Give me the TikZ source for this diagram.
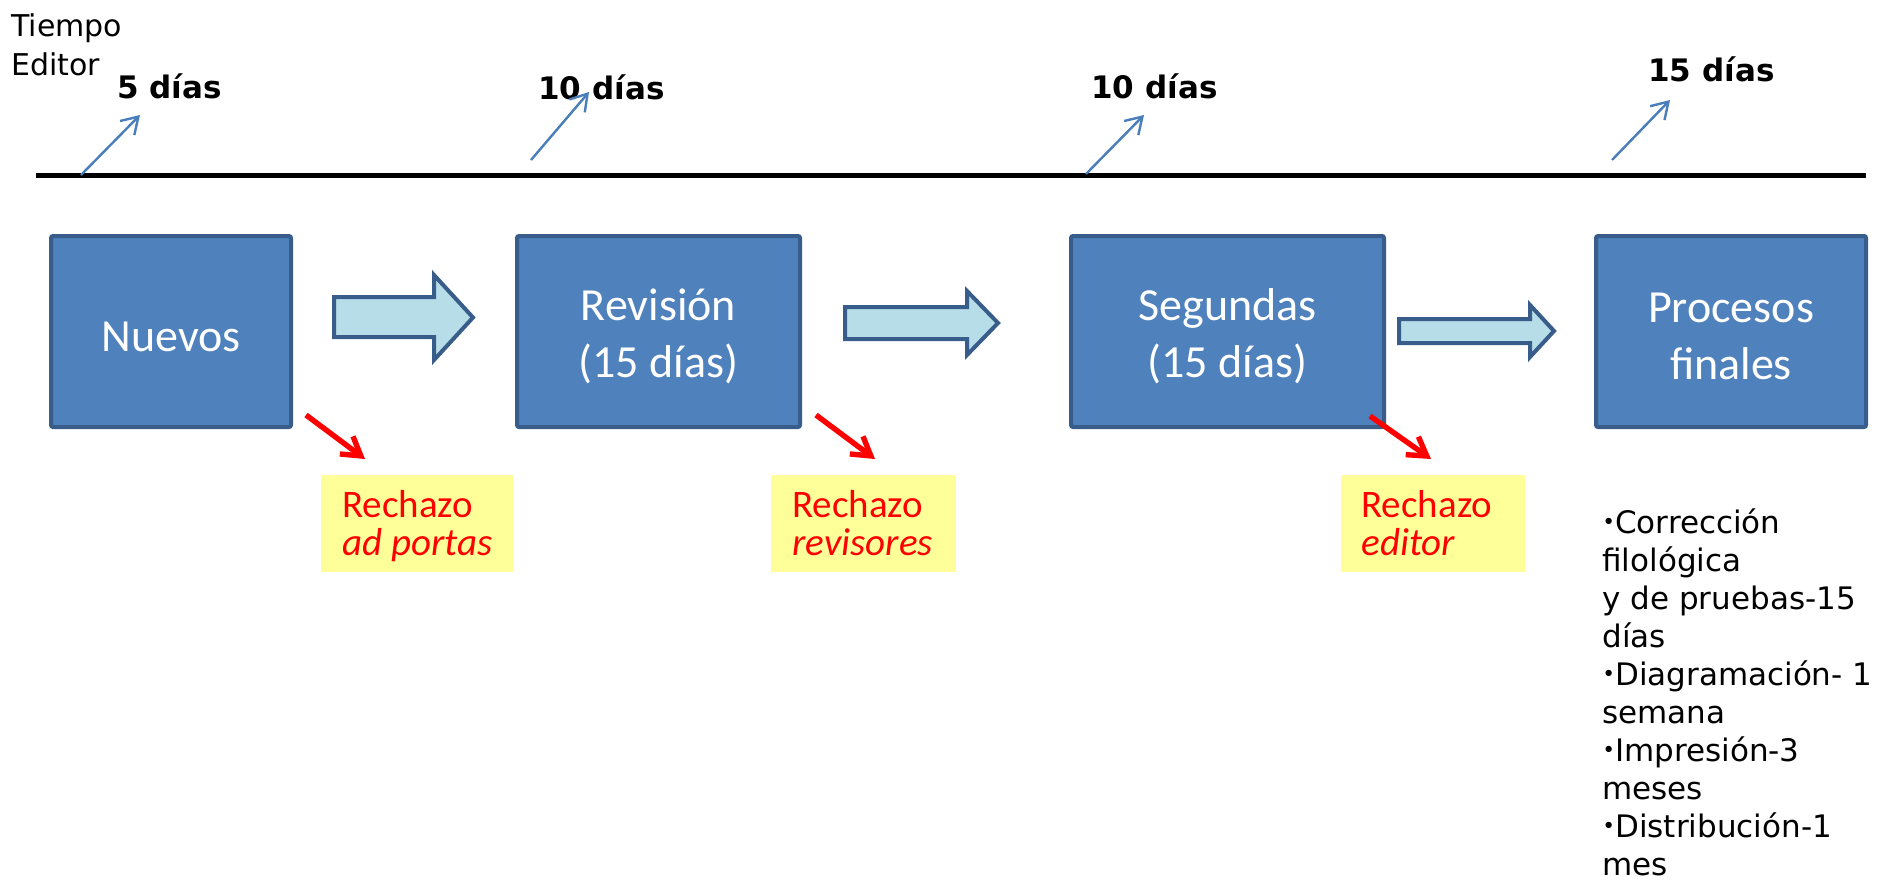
\documentclass[tikz,border=0pt]{standalone}
\usepackage{fontspec}
\newfontfamily\carl{Carlito}
\newfontfamily\dvs{DejaVu Sans}
\usetikzlibrary{arrows.meta}
\definecolor{boxfill}{HTML}{4F81BD}
\definecolor{boxline}{HTML}{385D8A}
\definecolor{arrfill}{HTML}{B7DEE8}
\definecolor{tickblue}{HTML}{4A7EBB}
\definecolor{yel}{HTML}{FFFF99}
\newcommand{\smbul}{\raisebox{0.12em}{\scalebox{0.7}{•}}}
\begin{document}
\begin{tikzpicture}[x=0.5pt,y=-0.5pt,
  stagebox/.style={draw=boxline, line width=2pt, fill=boxfill, rounded corners=1pt,
    inner sep=0pt, outer sep=0pt, minimum height=95.5pt},
  stagetext/.style={text=white, inner sep=0pt, font=\carl\fontsize{23}{28.5}\selectfont, align=center},
  blockarr/.style={draw=boxline, line width=2pt, fill=arrfill, line join=miter},
  tick/.style={draw=tickblue, line width=1.2pt, -{Straight Barb[length=8pt,width=10pt]}},
  reject/.style={draw=red, line width=2.7pt, -{Straight Barb[length=9pt,width=11pt]}},
  rejbox/.style={fill=yel, inner sep=0pt, outer sep=0pt, minimum height=48.5pt},
  rejtext/.style={text=red, font=\carl\fontsize{19.5}{19}\selectfont, align=left,
    inner sep=0pt, anchor=base west},
  days/.style={font=\dvs\bfseries\fontsize{15.5}{19}\selectfont, inner sep=0pt, anchor=base west},
  plain/.style={font=\dvs\fontsize{15.5}{19}\selectfont, inner sep=0pt, anchor=base west, align=left},
]
\useasboundingbox (0,0) rectangle (1895,879);

% time line
\coordinate (tl) at (36,175);
\coordinate (tr) at (1866,175);
\draw[line width=2.5pt] (tl) -- (tr);

% header (base anchor = baseline of last line)
\node[plain, font=\dvs\fontsize{15}{19.5}\selectfont] (tiempo) at (11,75) {Tiempo\\Editor};
\node[days] (d1) at (117,98) {5 días};
\node[days] (d2) at (538,99) {10 días};
\node[days] (d3) at (1091,98) {10 días};
\node[days] (d4) at (1648,81) {15 días};

% blue ticks
\coordinate (t1s) at (81,175);   \coordinate (t1e) at (140,115);
\coordinate (t2s) at (531,160);  \coordinate (t2e) at (589,92);
\coordinate (t3s) at (1086,174); \coordinate (t3e) at (1144,115);
\coordinate (t4s) at (1612,160); \coordinate (t4e) at (1670,100);
\draw[tick] (t1s) -- (t1e);
\draw[tick] (t2s) -- (t2e);
\draw[tick] (t3s) -- (t3e);
\draw[tick] (t4s) -- (t4e);

% stage boxes
\node[stagebox, minimum width=120pt] (nuevos) at (171,331.5) {};
\node[stagebox, minimum width=141.5pt] (revision) at (658.5,331.5) {};
\node[stagebox, minimum width=156.5pt] (segundas) at (1227.5,331.5) {};
\node[stagebox, minimum width=135pt] (procesos) at (1731,331.5) {};
\node[stagetext] (nuevost) at ([yshift=-2.5pt]nuevos.center) {Nuevos};
\node[stagetext] (revisiont) at ([yshift=-2.5pt]revision.center) {Revisión\\(15 días)};
\node[stagetext] (segundast) at ([yshift=-2.5pt]segundas.center) {Segundas\\(15 días)};
\node[stagetext] (procesost) at ([yshift=-2.5pt]procesos.center) {Procesos\\finales};

% block arrows
\draw[blockarr] (334,297) -- (434,297) -- (434,275) -- (473,317.5) -- (434,360) -- (434,337) -- (334,337) -- cycle;
\draw[blockarr] (845,307) -- (967,307) -- (967,291) -- (998,323) -- (967,355) -- (967,339) -- (845,339) -- cycle;
\draw[blockarr] (1399,319) -- (1530,319) -- (1530,305) -- (1554,331) -- (1530,357) -- (1530,343) -- (1399,343) -- cycle;

% rejection boxes
\node[rejbox, minimum width=96pt] (r1) at (417,523.5) {};
\node[rejbox, minimum width=92.5pt] (r2) at (863.5,523.5) {};
\node[rejbox, minimum width=92pt] (r3) at (1433,523.5) {};
\node[rejtext] (r1t) at (342,555) {Rechazo\\\textit{ad portas}};
\node[rejtext] (r2t) at (792,555) {Rechazo\\\textit{revisores}};
\node[rejtext] (r3t) at (1361,555) {Rechazo\\\textit{editor}};

% red arrows
\coordinate (a1s) at (306,415);  \coordinate (a1e) at (365,459);
\coordinate (a2s) at (816,415);  \coordinate (a2e) at (875,459);
\coordinate (a3s) at (1370,416); \coordinate (a3e) at (1431,459);
\draw[reject] (a1s) -- (a1e);
\draw[reject] (a2s) -- (a2e);
\draw[reject] (a3s) -- (a3e);

% final list
\node[plain] (lista) at (1602,875) {\smbul Corrección\\filológica\\y de pruebas-15\\días\\\smbul Diagramación- 1\\semana\\\smbul Impresión-3\\meses\\\smbul Distribución-1\\mes};
\end{tikzpicture}
\end{document}
